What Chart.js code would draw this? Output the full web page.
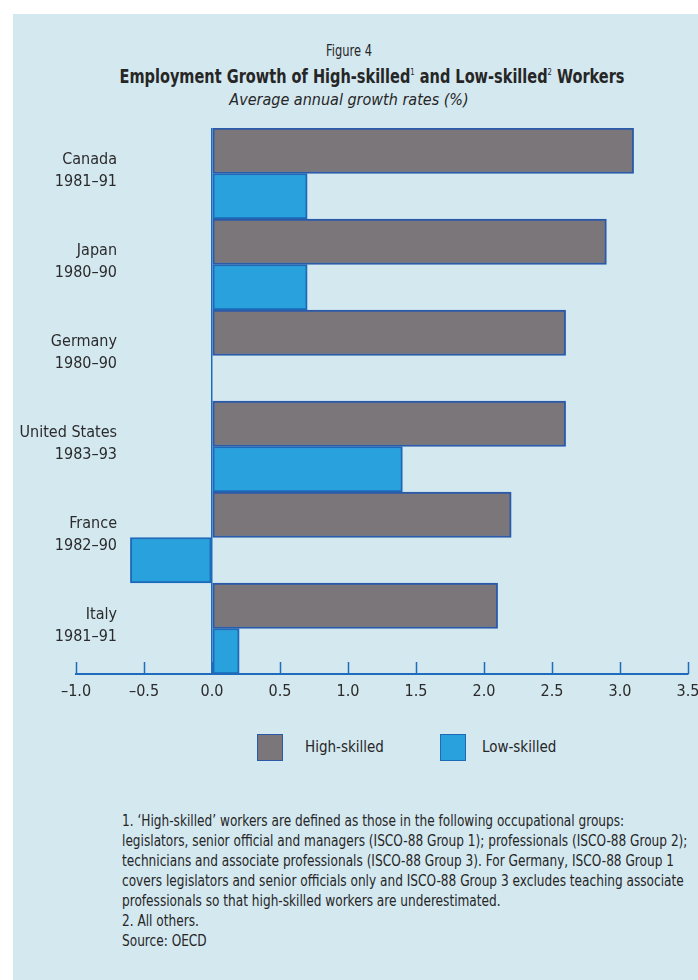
<!DOCTYPE html>
<html>
<head>
<meta charset="utf-8">
<script src="https://cdn.jsdelivr.net/npm/chart.js@4/dist/chart.umd.min.js"></script>
<style>
  html, body { margin: 0; padding: 0; background: #ffffff; }
  body { width: 698px; height: 980px; position: relative; overflow: hidden;
         font-family: "DejaVu Sans Condensed", "DejaVu Sans", sans-serif; color: #262626; }
  #panel { position: absolute; left: 13px; top: 14px; right: 0; bottom: 0; background: #d4e8f0; }
  #chartBox { position: absolute; left: 0; top: 0; width: 698px; height: 720px; }
  .t { position: absolute; left: 0; width: 698px; text-align: center; white-space: nowrap; }
  #fig { top: 42px; font-size: 15px; transform: scaleX(0.85); }
  #title { top: 65px; font-size: 19px; font-weight: bold; left: 23px; transform: scaleX(0.85); }
  #title sup { font-size: 9px; vertical-align: 8px; font-weight: normal; }
  #sub { top: 90px; font-size: 16px; font-style: italic; }
  #legend { position: absolute; top: 733px; left: 257px; height: 28px; display: flex; align-items: center; font-size: 15px; }
  .item { display: flex; align-items: center; }
  .sw { width: 24px; height: 25px; border: 1.5px solid; box-sizing: content-box; }
  #notes { position: absolute; left: 122px; top: 811px; font-size: 15px; line-height: 20px; white-space: nowrap;
           transform: scaleX(0.9); transform-origin: left top; }
</style>
</head>
<body>
<div id="panel"></div>
<div class="t" id="fig">Figure 4</div>
<div class="t" id="title">Employment Growth of High-skilled<sup>1</sup> and Low-skilled<sup>2</sup> Workers</div>
<div class="t" id="sub">Average annual growth rates (%)</div>
<div id="chartBox"><canvas id="chart"></canvas></div>
<div id="legend"></div>
<div id="notes">
1. ‘High-skilled’ workers are defined as those in the following occupational groups:<br>
legislators, senior official and managers (ISCO-88 Group 1); professionals (ISCO-88 Group 2);<br>
technicians and associate professionals (ISCO-88 Group 3). For Germany, ISCO-88 Group 1<br>
covers legislators and senior officials only and ISCO-88 Group 3 excludes teaching associate<br>
professionals so that high-skilled workers are underestimated.<br>
2. All others.<br>
Source: OECD
</div>
<script>
// Countries and the period each growth rate covers
const countries = ['Canada', 'Japan', 'Germany', 'United States', 'France', 'Italy'];
const periods = ['1981–91', '1980–90', '1980–90', '1983–93', '1982–90', '1981–91'];

// Average annual employment growth, %
const highSkilled = [3.1, 2.9, 2.6, 2.6, 2.2, 2.1];
const lowSkilled = [0.7, 0.7, null, 1.4, -0.6, 0.2];

const seriesNames = ['High-skilled', 'Low-skilled'];

// Horizontal axis
const axisMin = -1.0;
const axisMax = 3.5;
const axisStep = 0.5;

const BLUE_LINE = '#1f6cbf';
const GREY_FILL = '#7b7679';
const BLUE_FILL = '#29a1dc';
const LABEL_FONT = '"DejaVu Sans Condensed", "DejaVu Sans", sans-serif';

const fills = [GREY_FILL, BLUE_FILL];
const borders = ['#2a5aa8', '#1c6ab8'];

// HTML legend built from the series names
const legend = document.getElementById('legend');
const swatchGap = [22, 16];
const itemGap = [56, 0];
seriesNames.forEach((name, i) => {
  const item = document.createElement('div');
  item.className = 'item';
  item.style.marginRight = itemGap[i] + 'px';
  const sw = document.createElement('div');
  sw.className = 'sw';
  sw.style.background = fills[i];
  sw.style.borderColor = borders[i];
  sw.style.marginRight = swatchGap[i] + 'px';
  const txt = document.createElement('span');
  txt.textContent = name;
  item.appendChild(sw);
  item.appendChild(txt);
  legend.appendChild(item);
});

const fmt = v => (Math.abs(v) < 1e-9 ? 0 : v).toFixed(1).replace('-', '–');

// Short tick marks pointing up from the horizontal axis
const upTicks = {
  id: 'upTicks',
  afterDraw(chart) {
    const x = chart.scales.x;
    const ctx = chart.ctx;
    const yb = chart.chartArea.bottom;
    ctx.save();
    ctx.strokeStyle = BLUE_LINE;
    ctx.lineWidth = 1.5;
    x.ticks.forEach(t => {
      const px = Math.round(x.getPixelForValue(t.value)) + 0.5;
      ctx.beginPath();
      ctx.moveTo(px, yb - 12);
      ctx.lineTo(px, yb);
      ctx.stroke();
    });
    ctx.restore();
  }
};

// Two-line category labels, right-aligned, overlapping the empty left part of the plot
const categoryLabels = {
  id: 'categoryLabels',
  afterDraw(chart) {
    const y = chart.scales.y;
    const ctx = chart.ctx;
    ctx.save();
    ctx.fillStyle = '#2b2b2b';
    ctx.font = '16px ' + LABEL_FONT;
    ctx.textAlign = 'right';
    ctx.textBaseline = 'middle';
    chart.data.labels.forEach((lines, i) => {
      const cy = y.getPixelForValue(i);
      ctx.fillText(lines[0], 117, cy - 14);
      ctx.fillText(lines[1], 117, cy + 8);
    });
    ctx.restore();
  }
};

new Chart(document.getElementById('chart'), {
  type: 'bar',
  data: {
    labels: countries.map((c, i) => [c, periods[i]]),
    datasets: [
      {
        label: seriesNames[0],
        data: highSkilled,
        backgroundColor: GREY_FILL,
        borderColor: borders[0],
        borderWidth: 2,
        borderSkipped: false,
        categoryPercentage: 1.0,
        barPercentage: 1.0
      },
      {
        label: seriesNames[1],
        data: lowSkilled,
        backgroundColor: BLUE_FILL,
        borderColor: borders[1],
        borderWidth: 2,
        borderSkipped: false,
        categoryPercentage: 1.0,
        barPercentage: 1.0
      }
    ]
  },
  options: {
    indexAxis: 'y',
    responsive: true,
    maintainAspectRatio: false,
    animation: false,
    layout: { padding: { top: 128, right: 10, left: 0, bottom: 0 } },
    plugins: {
      legend: { display: false },
      tooltip: { enabled: false },
      title: { display: false }
    },
    scales: {
      x: {
        min: axisMin,
        max: axisMax,
        afterFit(scale) {
          scale.height = 46;
          scale.paddingLeft = 0;
          scale.paddingRight = 0;
        },
        ticks: {
          stepSize: axisStep,
          padding: 8,
          color: '#2b2b2b',
          font: { family: LABEL_FONT, size: 16 },
          callback: v => fmt(v)
        },
        grid: {
          drawTicks: false,
          lineWidth: 1.5,
          color: ctx => (ctx.tick && Math.abs(ctx.tick.value) < 1e-9 ? BLUE_LINE : 'rgba(0,0,0,0)')
        },
        border: { display: true, color: BLUE_LINE, width: 2 }
      },
      y: {
        afterFit(scale) { scale.width = 76; },
        ticks: { display: false },
        grid: { display: false, drawTicks: false },
        border: { display: false }
      }
    }
  },
  plugins: [upTicks, categoryLabels]
});
</script>
</body>
</html>
